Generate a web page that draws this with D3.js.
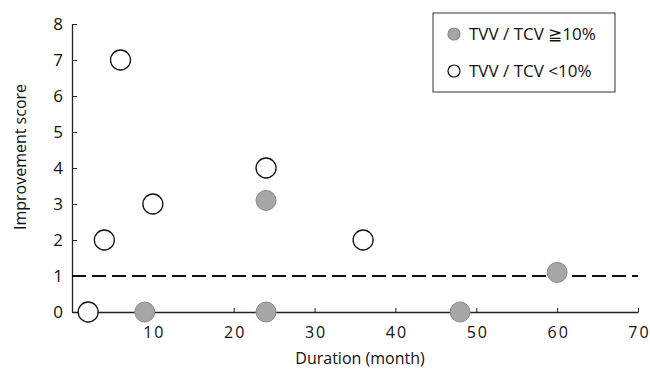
<!DOCTYPE html>
<html>
<head>
<meta charset="utf-8">
<script src="https://cdn.jsdelivr.net/npm/d3@7"></script>
<style>
  body { margin: 0; background: #fff; }
  svg text { font-family: "Open Sans", "Liberation Sans", sans-serif; fill: #111; }
</style>
</head>
<body>
<svg id="chart" width="650" height="372"></svg>
<script>
// data
var gray_dur = [9, 24, 24, 48, 60];
var gray_score = [0, 0, 3.1, 0, 1.1];
var open_dur = [2, 4, 6, 10, 24, 36];
var open_score = [0, 2, 7, 3, 4, 2];
var x_ticks = [10, 20, 30, 40, 50, 60, 70];
var y_ticks = [0, 1, 2, 3, 4, 5, 6, 7, 8];
var threshold = 1;
var legend_labels = ["TVV / TCV \u226710%", "TVV / TCV <10%"];

var svg = d3.select("#chart");
var x = d3.scaleLinear().domain([0, 70]).range([72, 638]);
var y = d3.scaleLinear().domain([0, 8]).range([312, 24]);

// axes
var x_axis = svg.append("g").attr("transform", "translate(0,312)")
  .call(d3.axisBottom(x).tickValues(x_ticks).tickSizeInner(-4).tickSizeOuter(0).tickPadding(15));
x_axis.select(".domain").attr("stroke", "#222").attr("stroke-width", 1.3);
x_axis.selectAll(".tick line").attr("stroke", "#222");
x_axis.selectAll("text").style("font-size", "16px").style("letter-spacing", "2px").attr("dx", "1");

var y_axis = svg.append("g").attr("transform", "translate(72,0)")
  .call(d3.axisLeft(y).tickValues(y_ticks).tickSizeInner(-5).tickSizeOuter(0).tickPadding(9));
y_axis.select(".domain").attr("stroke", "#222").attr("stroke-width", 1.3);
y_axis.selectAll(".tick line").attr("stroke", "#222");
y_axis.selectAll("text").style("font-size", "17px");

// titles
svg.append("text").attr("x", 360).attr("y", 364).attr("text-anchor", "middle")
  .style("font-size", "16px").text("Duration (month)");
svg.append("text").attr("transform", "translate(26,157) rotate(-90)").attr("text-anchor", "middle")
  .style("font-size", "16px").text("Improvement score");

// dashed reference line
svg.append("line").attr("x1", x(0)).attr("x2", x(70)).attr("y1", y(threshold)).attr("y2", y(threshold))
  .attr("stroke", "#111").attr("stroke-width", 2).attr("stroke-dasharray", "14,6");

// points
var gray_pts = gray_dur.map(function(d, i) { return {dur: d, score: gray_score[i]}; });
var open_pts = open_dur.map(function(d, i) { return {dur: d, score: open_score[i]}; });

svg.selectAll(".gray").data(gray_pts).enter().append("circle").attr("class", "gray")
  .attr("cx", function(d) { return x(d.dur); }).attr("cy", function(d) { return y(d.score); })
  .attr("r", 10).attr("fill", "#a6a6a6").attr("stroke", "#8a8a8a").attr("stroke-width", 1);
svg.selectAll(".open").data(open_pts).enter().append("circle").attr("class", "open")
  .attr("cx", function(d) { return x(d.dur); }).attr("cy", function(d) { return y(d.score); })
  .attr("r", 10).attr("fill", "#fff").attr("stroke", "#111").attr("stroke-width", 1.3);

// legend
var legend = svg.append("g");
legend.append("rect").attr("x", 433).attr("y", 13).attr("width", 182).attr("height", 79)
  .attr("fill", "#fff").attr("stroke", "#333").attr("stroke-width", 1);
legend_labels.forEach(function(t, i) {
  var ly = 34 + i * 37;
  legend.append("circle").attr("cx", 454).attr("cy", ly).attr("r", 6)
    .attr("fill", i == 0 ? "#a6a6a6" : "#fff").attr("stroke", i == 0 ? "#8a8a8a" : "#111").attr("stroke-width", 1.2);
  legend.append("text").attr("x", 469).attr("y", ly + 6).style("font-size", "17px").text(t);
});
</script>
</body>
</html>
